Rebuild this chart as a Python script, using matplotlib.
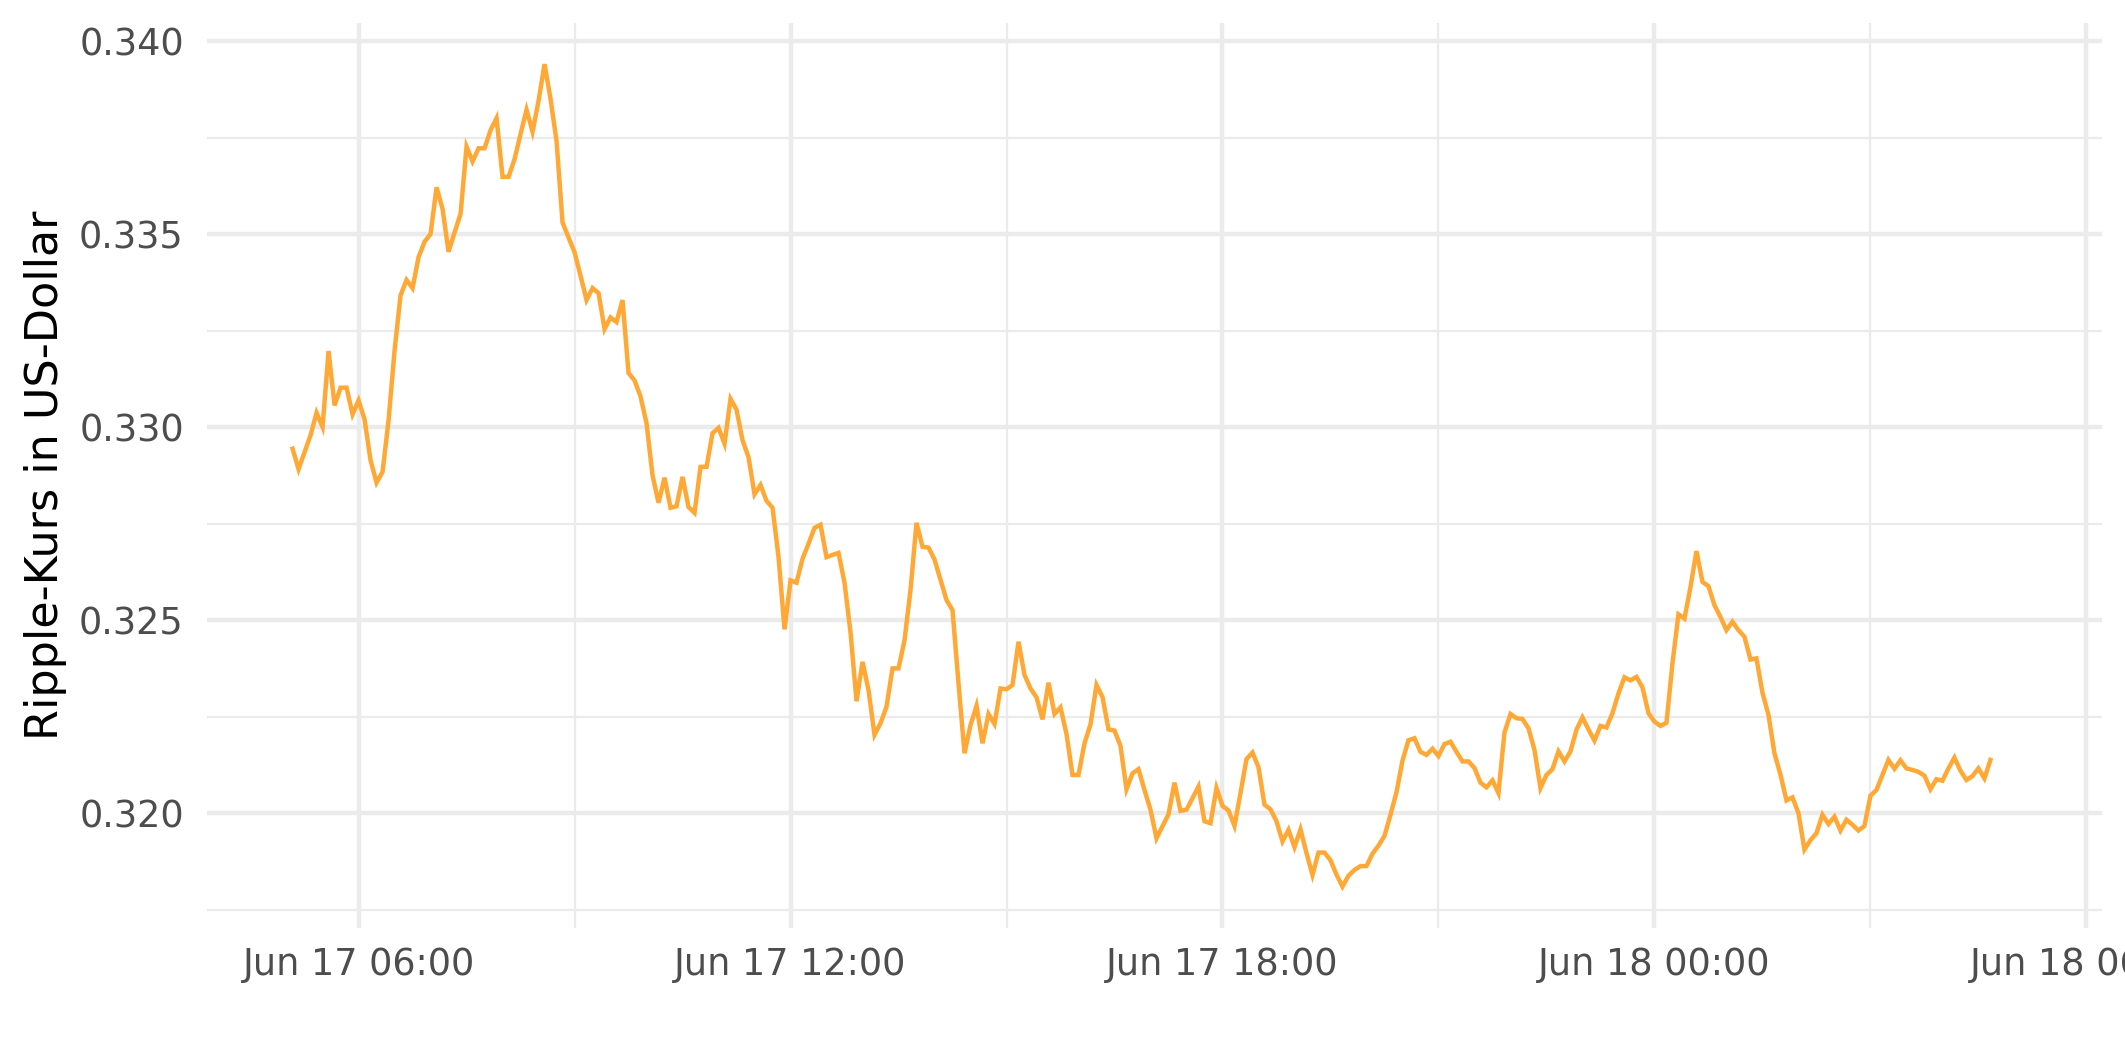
import numpy as np
import pandas as pd
import matplotlib
matplotlib.use("Agg")
import matplotlib.pyplot as plt
import matplotlib.dates as mdates
from matplotlib.ticker import MultipleLocator, FormatStrFormatter

# 5-minute XRP quotes
start = "2022-06-17 05:05"
interval = "5min"
price = [
    0.32944, 0.32891, 0.32935, 0.32979, 0.33037, 0.33000, 0.33197, 0.33056, 0.33102, 0.33102,
    0.33033, 0.33069, 0.33020, 0.32914, 0.32856, 0.32884, 0.33017, 0.33198, 0.33341, 0.33381,
    0.33360, 0.33440, 0.33480, 0.33500, 0.33621, 0.33565, 0.33454, 0.33504, 0.33552, 0.33726,
    0.33688, 0.33722, 0.33722, 0.33769, 0.33800, 0.33648, 0.33648, 0.33694, 0.33759, 0.33822,
    0.33765, 0.33845, 0.33940, 0.33850, 0.33741, 0.33530, 0.33491, 0.33453, 0.33392, 0.33329,
    0.33360, 0.33347, 0.33254, 0.33284, 0.33272, 0.33329, 0.33140, 0.33121, 0.33079, 0.33010,
    0.32875, 0.32804, 0.32869, 0.32791, 0.32795, 0.32871, 0.32793, 0.32778, 0.32897, 0.32897,
    0.32984, 0.32998, 0.32957, 0.33073, 0.33045, 0.32966, 0.32922, 0.32826, 0.32850, 0.32809,
    0.32791, 0.32664, 0.32476, 0.32603, 0.32597, 0.32659, 0.32698, 0.32739, 0.32747, 0.32663,
    0.32669, 0.32674, 0.32597, 0.32468, 0.32290, 0.32392, 0.32319, 0.32203, 0.32233, 0.32276,
    0.32375, 0.32375, 0.32448, 0.32578, 0.32752, 0.32690, 0.32688, 0.32657, 0.32604, 0.32552,
    0.32526, 0.32336, 0.32155, 0.32228, 0.32278, 0.32181, 0.32257, 0.32231, 0.32323, 0.32321,
    0.32332, 0.32444, 0.32358, 0.32323, 0.32300, 0.32243, 0.32338, 0.32257, 0.32274, 0.32205,
    0.32099, 0.32099, 0.32181, 0.32230, 0.32332, 0.32301, 0.32217, 0.32214, 0.32174, 0.32062,
    0.32103, 0.32114, 0.32060, 0.32009, 0.31935, 0.31966, 0.31997, 0.32079, 0.32006, 0.32009,
    0.32039, 0.32069, 0.31979, 0.31974, 0.32065, 0.32019, 0.32007, 0.31967, 0.32052, 0.32140,
    0.32157, 0.32119, 0.32022, 0.32010, 0.31979, 0.31927, 0.31957, 0.31912, 0.31958, 0.31897,
    0.31840, 0.31898, 0.31898, 0.31878, 0.31841, 0.31810, 0.31838, 0.31853, 0.31863, 0.31863,
    0.31895, 0.31916, 0.31941, 0.31996, 0.32054, 0.32136, 0.32189, 0.32194, 0.32159, 0.32151,
    0.32167, 0.32148, 0.32179, 0.32185, 0.32159, 0.32134, 0.32134, 0.32117, 0.32079, 0.32067,
    0.32085, 0.32052, 0.32209, 0.32257, 0.32246, 0.32244, 0.32220, 0.32164, 0.32065, 0.32099,
    0.32114, 0.32160, 0.32134, 0.32160, 0.32216, 0.32248, 0.32217, 0.32188, 0.32226, 0.32222,
    0.32259, 0.32310, 0.32352, 0.32344, 0.32353, 0.32326, 0.32259, 0.32237, 0.32226, 0.32234,
    0.32388, 0.32515, 0.32504, 0.32585, 0.32679, 0.32599, 0.32588, 0.32539, 0.32508, 0.32474,
    0.32496, 0.32474, 0.32457, 0.32398, 0.32401, 0.32312, 0.32255, 0.32155, 0.32100, 0.32033,
    0.32041, 0.32000, 0.31906, 0.31930, 0.31948, 0.31996, 0.31972, 0.31991, 0.31955, 0.31983,
    0.31970, 0.31955, 0.31967, 0.32045, 0.32060, 0.32099, 0.32138, 0.32115, 0.32137, 0.32116,
    0.32112, 0.32107, 0.32097, 0.32062, 0.32088, 0.32084, 0.32116, 0.32144, 0.32110, 0.32086,
    0.32096, 0.32116, 0.32090, 0.32138,
]

# visible time window of the panel
x_from = "2022-06-17 03:53:30"
x_to = "2022-06-18 06:12:40"

line_color = "#FFA836"
grid_color = "#EBEBEB"
text_color = "#4D4D4D"

times = pd.date_range(start, periods=len(price), freq=interval)
x = mdates.date2num(times.to_pydatetime())
y = np.array(price)

fig = plt.figure(figsize=(2125 / 300, 1062 / 300), dpi=300)
ax = fig.add_axes([0.0973, 0.1265, 0.8917, 0.8518])

ax.plot(x, y, color=line_color, lw=1.07, solid_joinstyle="miter", zorder=3)

ax.set_xlim(mdates.date2num(pd.Timestamp(x_from)), mdates.date2num(pd.Timestamp(x_to)))
# ggplot-style 5% padding around the value range
yspan = y.max() - y.min()
ax.set_ylim(y.min() - 0.05 * yspan, y.max() + 0.05 * yspan)

ax.xaxis.set_major_locator(mdates.HourLocator(byhour=[0, 6, 12, 18]))
ax.xaxis.set_minor_locator(mdates.HourLocator(byhour=[3, 9, 15, 21]))
ax.xaxis.set_major_formatter(mdates.DateFormatter("%b %d %H:%M"))
ax.yaxis.set_major_locator(MultipleLocator(0.005))
ax.yaxis.set_minor_locator(MultipleLocator(0.0025))
ax.yaxis.set_major_formatter(FormatStrFormatter("%.3f"))

ax.grid(which="major", color=grid_color, lw=1.07)
ax.grid(which="minor", color=grid_color, lw=0.53)
ax.set_axisbelow(True)
for s in ax.spines.values():
    s.set_visible(False)

ax.tick_params(which="both", length=0, labelsize=8.8, labelcolor=text_color)
ax.tick_params(axis="y", pad=5.5)
ax.tick_params(axis="x", pad=4.5)

ax.set_ylabel("Ripple-Kurs in US-Dollar", fontsize=10.7, color="black", labelpad=2.8)

fig.savefig("out.png", dpi=300, facecolor="white")
